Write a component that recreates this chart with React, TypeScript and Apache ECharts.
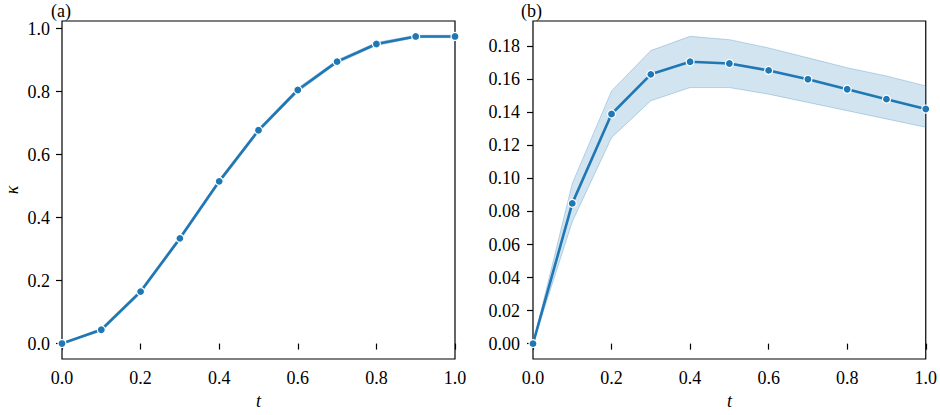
import React, { useEffect, useRef } from "react";
import * as echarts from "echarts";

const tValues = [0, 0.1, 0.2, 0.3, 0.4, 0.5, 0.6, 0.7, 0.8, 0.9, 1.0];

const kappaMean = [0, 0.044, 0.165, 0.334, 0.515, 0.677, 0.805, 0.895, 0.951, 0.975, 0.975];
const kappaLower = [0, 0.039, 0.159, 0.328, 0.509, 0.671, 0.799, 0.890, 0.946, 0.971, 0.971];
const kappaUpper = [0, 0.049, 0.171, 0.340, 0.521, 0.683, 0.811, 0.900, 0.956, 0.979, 0.979];

const rateMean = [0, 0.0849, 0.139, 0.163, 0.1706, 0.1696, 0.1654, 0.16, 0.154, 0.148, 0.142];
const rateLower = [0, 0.0738, 0.1247, 0.147, 0.155, 0.155, 0.151, 0.146, 0.141, 0.136, 0.131];
const rateUpper = [0, 0.097, 0.153, 0.1774, 0.186, 0.184, 0.179, 0.173, 0.167, 0.162, 0.156];

const kappaTicks = [0, 0.2, 0.4, 0.6, 0.8, 1.0];
const rateTicks = [0, 0.02, 0.04, 0.06, 0.08, 0.1, 0.12, 0.14, 0.16, 0.18];

const panelLabels = ["(a)", "(b)"];

const FONT = "Liberation Serif";
const FS = 18;
const BLUE = "#1f77b4";
const BAND = "rgba(31,119,180,0.2)";
const BAND_EDGE = "rgba(31,119,180,0.28)";

function pairs(xs: number[], ys: number[]) {
  return xs.map((x, i) => [x, ys[i]]);
}

function onTick(v: number, ticks: number[]) {
  return ticks.some((t) => Math.abs(t - v) < 1e-6);
}

function bandSeries(idx: number, lower: number[], upper: number[]) {
  return {
    type: "custom",
    xAxisIndex: idx,
    yAxisIndex: idx,
    data: tValues.map((t, i) => [t, lower[i], upper[i]]),
    encode: { x: 0, y: [1, 2] },
    silent: true,
    z: 1,
    renderItem: (params: any, api: any) => {
      if (params.dataIndex !== 0) return null;
      const pts: number[][] = [];
      for (let i = 0; i < tValues.length; i++) pts.push(api.coord([tValues[i], upper[i]]));
      for (let i = tValues.length - 1; i >= 0; i--) pts.push(api.coord([tValues[i], lower[i]]));
      return {
        type: "polygon",
        shape: { points: pts },
        style: { fill: BAND, stroke: BAND_EDGE, lineWidth: 1 },
      };
    },
  };
}

function meanSeries(idx: number, mean: number[]) {
  return {
    type: "line",
    xAxisIndex: idx,
    yAxisIndex: idx,
    data: pairs(tValues, mean),
    symbol: "circle",
    symbolSize: 8,
    lineStyle: { color: BLUE, width: 2.6 },
    itemStyle: { color: BLUE, borderColor: "#fff", borderWidth: 1.2 },
    z: 3,
  };
}

const labelStyle = {
  fontFamily: FONT,
  fontSize: FS,
  color: "#000",
};

function xAxis(idx: number) {
  return {
    type: "value",
    gridIndex: idx,
    min: 0,
    max: 1,
    interval: 0.2,
    name: "t",
    nameLocation: "middle",
    nameGap: 33,
    nameTextStyle: { fontFamily: FONT, fontSize: FS, fontStyle: "italic", color: "#000" },
    axisLine: { show: false },
    axisTick: { show: true, length: 6, inside: false, lineStyle: { color: "#000", width: 1.2 } },
    axisLabel: {
      ...labelStyle,
      margin: 10,
      formatter: (v: number) => v.toFixed(1),
    },
    splitLine: { show: false },
  };
}

function App() {
  const ref = useRef<HTMLDivElement>(null);
  useEffect(() => {
    document.body.style.margin = "0";
    if (!ref.current) return;
    const chart = echarts.init(ref.current, undefined, { renderer: "svg" });
    const gridCommon = {
      show: true,
      borderColor: "#000",
      borderWidth: 1.2,
      backgroundColor: "transparent",
      top: 21,
      height: 338,
      width: 393,
      containLabel: false,
    };
    const titleStyle = { fontFamily: FONT, fontSize: FS, fontWeight: "normal", color: "#000" };
    chart.setOption({
      animation: false,
      title: [
        { text: panelLabels[0], left: 51, top: 2, textStyle: titleStyle, padding: 0 },
        { text: panelLabels[1], left: 521, top: 2, textStyle: titleStyle, padding: 0 },
      ],
      grid: [
        { ...gridCommon, left: 62 },
        { ...gridCommon, left: 533 },
      ],
      xAxis: [xAxis(0), xAxis(1)],
      yAxis: [
        {
          type: "value",
          gridIndex: 0,
          min: -0.049,
          max: 1.024,
          splitNumber: 5,
          name: "κ",
          nameLocation: "middle",
          nameGap: 41,
          nameRotate: 90,
          nameTextStyle: { fontFamily: FONT, fontSize: FS, fontStyle: "italic", color: "#000" },
          axisLine: { show: false },
          axisTick: { show: true, length: 6, lineStyle: { color: "#000", width: 1.2 }, customValues: kappaTicks },
          axisLabel: {
            ...labelStyle,
            margin: 12,
            formatter: (v: number) => (onTick(v, kappaTicks) ? v.toFixed(1) : ""),
          },
          splitLine: { show: false },
        },
        {
          type: "value",
          gridIndex: 1,
          min: -0.0093,
          max: 0.1953,
          splitNumber: 10,
          axisLine: { show: false },
          axisTick: { show: true, length: 6, lineStyle: { color: "#000", width: 1.2 }, customValues: rateTicks },
          axisLabel: {
            ...labelStyle,
            margin: 13,
            formatter: (v: number) => (onTick(v, rateTicks) ? v.toFixed(2) : ""),
          },
          splitLine: { show: false },
        },
      ],
      series: [
        bandSeries(0, kappaLower, kappaUpper),
        meanSeries(0, kappaMean),
        bandSeries(1, rateLower, rateUpper),
        meanSeries(1, rateMean),
      ],
    });
    return () => chart.dispose();
  }, []);
  return <div ref={ref} style={{ width: 940, height: 415 }} />;
}

export default App;
